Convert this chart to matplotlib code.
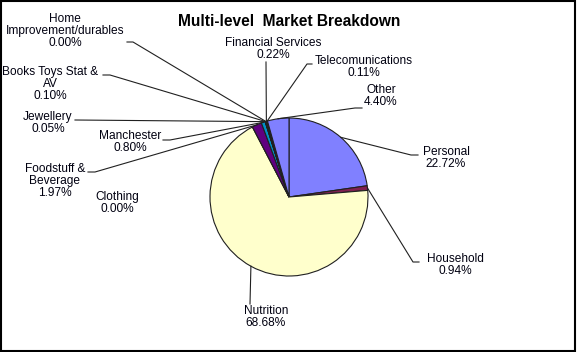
import numpy as np
import matplotlib
matplotlib.use("Agg")
import matplotlib.pyplot as plt
from matplotlib.patches import Rectangle

# ---- data ----
categories = ["Personal", "Household", "Nutrition", "Clothing", "Foodstuff & Beverage",
              "Manchester", "Jewellery", "Books Toys Stat & AV", "Home Improvement/durables",
              "Financial Services", "Telecomunications", "Other"]
display_names = ["Personal", "Household", "Nutrition", "Clothing", "Foodstuff &\nBeverage",
                 "Manchester", "Jewellery", "Books Toys Stat &\nAV", "Home\nImprovement/durables",
                 "Financial Services", "Telecomunications", "Other"]
percentages = [22.72, 0.94, 68.68, 0.00, 1.97, 0.80, 0.05, 0.10, 0.00, 0.22, 0.11, 4.40]
colors = ["#8080FF", "#802050", "#FFFFCC", "#CCFFFF", "#600080", "#0090C8",
          "#0066CC", "#CCCCFF", "#000080", "#202020", "#303030", "#8080FF"]
title = "Multi-level  Market Breakdown"

W, H = 577, 352
plt.rcParams['font.family'] = ['Liberation Sans', 'DejaVu Sans']

fig = plt.figure(figsize=(W / 100, H / 100), dpi=100)
ax = fig.add_axes([0, 0, 1, 1])
ax.set_xlim(0, W)
ax.set_ylim(0, H)
ax.set_aspect('equal')
ax.axis('off')

def P(x, ytop):
    return (x, H - ytop)

cx, cy = P(289, 197)
R = 79
wedges, _ = ax.pie(percentages, colors=colors, startangle=90, counterclock=False,
                   center=(cx, cy), radius=R, frame=True,
                   wedgeprops=dict(edgecolor='#202020', linewidth=0.8))
ax.set_xlim(0, W)
ax.set_ylim(0, H)
ax.axis('off')

# label layout: (text center x, text center y (top-based), anchor x, anchor y, stub dx)
layout = {
    "Personal": (446, 158, 418, 155, -7),
    "Household": (455, 265, 419, 262, -6),
    "Nutrition": (266, 317, 250, 304, 0),
    "Clothing": (117, 203, None, None, 0),
    "Foodstuff & Beverage": (55, 181, 88, 172, 7),
    "Manchester": (130, 142, 163, 140, 7),
    "Jewellery": (48, 123, 75, 120, 0),
    "Books Toys Stat & AV": (50, 84, 103, 75, 7),
    "Home Improvement/durables": (65, 31, 127, 42, 6),
    "Financial Services": (273, 49, 266, 62, 0),
    "Telecomunications": (364, 67, 312, 64, -5),
    "Other": (381, 96, 362, 108, -7),
}

for w, cat, name, pct in zip(wedges, categories, display_names, percentages):
    tx, ty, axx, ayy, stub = layout[cat]
    ax.text(*P(tx, ty), f"{name}\n{pct:.2f}%", ha='center', va='center',
            fontsize=8.6, linespacing=1.0, color='#000010')
    if axx is None:
        continue
    mid = np.deg2rad((w.theta1 + w.theta2) / 2)
    ex, ey = cx + R * np.cos(mid), cy + R * np.sin(mid)
    x0, y0 = P(axx, ayy)
    xs = [x0, x0 + stub, ex]
    ys = [y0, y0, ey]
    ax.plot(xs, ys, color='#202020', lw=0.8, solid_joinstyle='miter')

fig.text(289 / W, 1 - 22 / H, title, ha='center', va='center',
         fontsize=11.2, fontweight='bold')

fig.patches.append(Rectangle((0.5 / W, 1.5 / H), (W - 2.5) / W, (H - 2.5) / H,
                             transform=fig.transFigure, fill=False,
                             edgecolor='black', linewidth=1.5))

fig.savefig("out.png", dpi=100)
